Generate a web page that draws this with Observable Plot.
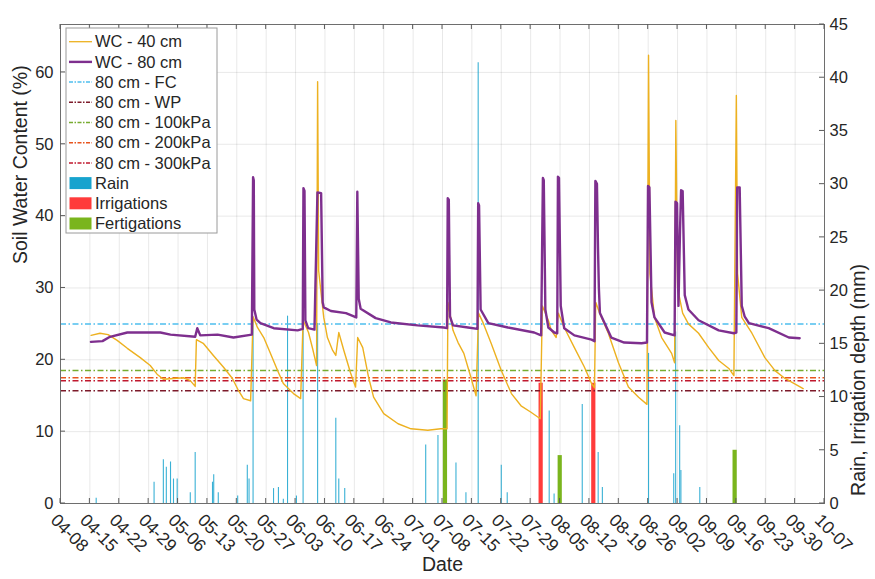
<!DOCTYPE html>
<html>
<head>
<meta charset="utf-8">
<script src="https://cdn.jsdelivr.net/npm/d3@7"></script>
<script src="https://cdn.jsdelivr.net/npm/@observablehq/plot@0.6"></script>
<style>
  body { margin: 0; background: #fff; }
  #chart svg { display: block; }
</style>
</head>
<body>
<div id="chart"></div>
<script>
// ---------------- data ----------------
const YEAR = "2019";
const xTickLabels = ["04-08","04-15","04-22","04-29","05-06","05-13","05-20","05-27","06-03","06-10","06-17","06-24","07-01","07-08","07-15","07-22","07-29","08-05","08-12","08-19","08-26","09-02","09-09","09-16","09-23","09-30","10-07"];
const leftTicks = [0, 10, 20, 30, 40, 50, 60];
const rightTicks = [0, 5, 10, 15, 20, 25, 30, 35, 40, 45];
const LEFT_MAX = 66.67;   // soil water content axis top (%)
const RIGHT_MAX = 45;     // rain / irrigation axis top (mm)

// WC - 40 cm  [date hour, %]
const wc40 = [
["04-15 07",23.4],["04-17 10",23.7],["04-19 08",23.5],["04-21 12",22.7],["04-23 22",21.6],["04-27 00",20.3],["04-29 09",19.2],["05-01 00",18.0],["05-02 12",17.3],["05-04 22",17.4],["05-07 07",17.5],["05-08 22",17.1],["05-10 02",16.3],["05-10 09",22.8],["05-12 00",22.3],["05-14 10",20.6],["05-16 19",19.0],["05-18 23",17.4],["05-20 10",15.7],["05-21 14",14.6],["05-23 07",14.3],["05-23 21",26.0],["05-24 22",24.5],["05-26 10",23.1],["05-28 00",20.9],["05-29 17",18.5],["05-31 02",16.7],["06-02 12",15.3],["06-04 05",14.6],["06-04 19",25.5],["06-06 02",23.8],["06-07 02",21.5],["06-08 00",19.2],["06-08 06",58.7],["06-08 12",32.4],["06-09 17",25.9],["06-10 14",23.1],["06-11 20",21.3],["06-12 14",20.6],["06-13 07",23.8],["06-14 12",21.3],["06-16 02",18.2],["06-17 07",16.2],["06-17 19",23.1],["06-19 00",21.7],["06-20 10",17.5],["06-21 14",14.8],["06-24 00",12.5],["06-27 10",11.1],["06-30 12",10.4],["07-04 12",10.2],["07-07 14",10.4],["07-09 02",10.4],["07-09 07",28.0],["07-10 12",24.1],["07-11 17",22.4],["07-13 02",20.9],["07-14 19",17.5],["07-16 00",15.0],["07-16 14",26.5],["07-17 17",25.1],["07-19 14",22.3],["07-22 00",18.5],["07-24 10",15.3],["07-26 17",13.6],["07-29 02",12.7],["07-31 07",11.8],["07-31 19",27.5],["08-02 05",25.5],["08-02 22",24.1],["08-04 02",23.1],["08-04 14",26.5],["08-06 00",24.5],["08-08 10",21.7],["08-10 19",19.0],["08-12 12",16.7],["08-13 05",16.1],["08-13 12",28.0],["08-14 09",26.6],["08-16 12",23.7],["08-18 22",19.6],["08-21 07",16.2],["08-23 17",14.8],["08-25 17",13.8],["08-26 02",62.4],["08-26 10",32.0],["08-27 12",25.9],["08-29 05",23.1],["08-31 14",20.9],["09-01 07",19.6],["09-01 14",53.3],["09-02 00",30.0],["09-03 05",26.5],["09-04 14",25.0],["09-07 00",23.7],["09-09 10",21.7],["09-11 19",19.9],["09-14 05",18.8],["09-15 10",17.8],["09-16 00",56.8],["09-16 07",32.0],["09-17 07",25.9],["09-19 17",23.7],["09-22 19",20.3],["09-25 05",18.5],["09-27 14",17.4],["10-01 22",16.0]
];

// WC - 80 cm  [date hour, %]
const wc80 = [
["04-15 06",22.5],["04-18 00",22.6],["04-19 19",23.2],["04-23 22",23.8],["05-01 19",23.8],["05-04 05",23.5],["05-10 02",23.2],["05-10 14",24.4],["05-11 07",23.4],["05-15 10",23.5],["05-19 05",23.1],["05-23 14",23.5],["05-23 21",45.4],["05-24 01",45.0],["05-24 04",27.0],["05-24 17",25.6],["05-25 15",25.1],["05-28 19",24.4],["06-03 12",24.1],["06-04 17",24.3],["06-04 21",43.9],["06-05 03",43.5],["06-05 08",25.5],["06-06 00",24.4],["06-07 12",24.2],["06-08 05",43.3],["06-09 02",43.2],["06-09 11",28.0],["06-09 17",27.3],["06-11 10",26.8],["06-15 00",26.5],["06-17 11",25.9],["06-17 17",43.4],["06-18 01",28.5],["06-18 12",27.1],["06-22 02",25.8],["06-25 17",25.2],["07-02 02",24.8],["07-08 08",24.5],["07-09 02",24.4],["07-09 06",42.5],["07-09 12",42.3],["07-09 19",26.0],["07-10 12",24.8],["07-14 02",24.5],["07-16 08",24.3],["07-16 12",41.8],["07-16 17",41.5],["07-17 02",27.0],["07-18 22",25.1],["07-23 14",24.5],["07-29 20",23.8],["07-31 12",23.4],["07-31 22",45.3],["08-01 03",45.0],["08-01 12",27.0],["08-02 05",24.5],["08-03 15",23.8],["08-04 08",23.7],["08-04 12",45.5],["08-04 18",45.3],["08-05 04",27.5],["08-06 00",24.4],["08-08 10",23.4],["08-12 12",22.8],["08-13 05",22.6],["08-13 10",44.9],["08-13 19",44.5],["08-14 01",35.6],["08-14 06",30.0],["08-14 12",26.5],["08-17 05",23.1],["08-20 07",22.4],["08-24 10",22.3],["08-25 17",22.4],["08-25 23",44.2],["08-26 07",44.0],["08-26 19",28.0],["08-27 12",25.9],["08-29 22",23.8],["09-01 07",23.4],["09-01 12",42.0],["09-01 21",41.8],["09-02 05",27.5],["09-02 14",38.0],["09-02 20",43.6],["09-03 05",43.5],["09-03 17",29.0],["09-04 14",27.0],["09-07 00",25.5],["09-11 19",24.1],["09-15 10",23.7],["09-16 00",23.8],["09-16 05",44.0],["09-16 19",44.0],["09-17 07",27.5],["09-18 00",26.0],["09-19 00",25.1],["09-23 17",24.4],["09-28 12",23.1],["10-01 02",23.0]
];

// 80 cm reference levels (%)
const thresholdNames  = ["80 cm - FC", "80 cm - WP", "80 cm - 100kPa", "80 cm - 200kPa", "80 cm - 300kPa"];
const thresholdValues = [25.0, 15.7, 18.5, 17.5, 17.1];

// Rain events [date hour, mm]
const rain = [
["04-16 12",0.5],["04-30 07",2.0],["05-02 12",4.1],["05-03 05",3.4],["05-04 05",3.9],["05-04 22",2.3],["05-05 19",2.3],["05-08 22",1.0],["05-10 02",4.8],["05-14 05",2.0],["05-14 12",2.7],["05-15 14",1.0],["05-20 05",0.7],["05-22 12",3.6],["05-22 22",2.3],["05-23 21",17.5],["05-28 18",1.4],["05-29 22",1.5],["05-31 02",0.4],["06-01 02",17.6],["06-03 05",0.7],["06-04 19",16.9],["06-08 06",16.9],["06-12 14",8.0],["06-13 07",2.3],["06-14 17",1.4],["07-04 00",5.5],["07-06 22",6.4],["07-11 05",3.8],["07-13 14",1.0],["07-16 12",41.4],["07-22 00",3.6],["07-23 10",1.0],["08-02 10",8.7],["08-03 14",0.9],["08-10 07",9.3],["08-14 02",4.8],["08-15 02",1.5],["08-26 02",14.1],["09-01 02",2.8],["09-01 13",16.1],["09-02 12",7.3],["09-02 19",3.1],["09-07 07",1.5]
];
// Irrigations and fertigations [date hour (centre), mm]
const irrigations  = [["07-31 12",11.3],["08-13 01",11.3]];
const fertigations = [["07-08 17",11.6],["08-05 01",4.5],["09-15 17",5.0]];

const seriesNames = ["WC - 40 cm", "WC - 80 cm"];
const barNames = ["Rain", "Irrigations", "Fertigations"];
const axisTitles = {left: "Soil Water Content (%)", right: "Rain, Irrigation depth (mm)", x: "Date"};

// ---------------- styles ----------------
const C = {
  wc40: "#EDB120", wc80: "#7E2F8E",
  thresholds: ["#4DBEEE", "#7D1A2A", "#77AC30", "#E8541E", "#C0182E"],
  rain: "#17A3CE", irrig: "#FF3B3B", fert: "#7AB51D",
  grid: "#000", text: "#262626", axis: "#6e6e6e"
};
const DASH = "6,2.5,1.5,2.5";
const FONT = "'Liberation Sans', Helvetica, Arial, sans-serif";
const TICK_FS = 16.5, XTICK_FS = 17.5, TITLE_FS = 19.5;

// ---------------- helpers ----------------
const parseT = d3.utcParse("%Y-%m-%d %H");
const parseD = d3.utcParse("%Y-%m-%d");
const rows = arr => arr.map(([t, v]) => ({t: parseT(`${YEAR}-${t}`), v}));
const k = LEFT_MAX / RIGHT_MAX;   // mm -> left-axis units
const tickDates = xTickLabels.map(s => parseD(`${YEAR}-${s}`));
const xStart = tickDates[0], xEnd = tickDates[tickDates.length - 1];

const wc40Rows = rows(wc40), wc80Rows = rows(wc80);
const rainRows = rows(rain), irrRows = rows(irrigations), fertRows = rows(fertigations);
const thr = thresholdNames.map((name, i) => ({name, v: thresholdValues[i], color: C.thresholds[i]}));

const W = 875, H = 579, mL = 60, mR = 51, mT = 24, mB = 76;

const chart = Plot.plot({
  width: W, height: H,
  marginLeft: mL, marginRight: mR, marginTop: mT, marginBottom: mB,
  style: {fontFamily: FONT, fontSize: TICK_FS + "px", color: C.text, background: "#fff", overflow: "visible"},
  x: {type: "utc", domain: [xStart, xEnd], axis: null},
  y: {domain: [0, LEFT_MAX]},
  marks: [
    Plot.gridX(tickDates, {stroke: C.grid, strokeOpacity: 0.09}),
    Plot.gridY(leftTicks, {stroke: C.grid, strokeOpacity: 0.09}),
    // rain
    Plot.ruleX(rainRows, {x: "t", y1: 0, y2: d => d.v * k, stroke: C.rain, strokeWidth: 1.1, strokeOpacity: 0.85}),
    // irrigation & fertigation bars (1 day wide)
    Plot.rectY(irrRows, {x1: d => d3.utcHour.offset(d.t, -12), x2: d => d3.utcHour.offset(d.t, 12), y1: 0, y2: d => d.v * k, fill: C.irrig}),
    Plot.rectY(fertRows, {x1: d => d3.utcHour.offset(d.t, -12), x2: d => d3.utcHour.offset(d.t, 12), y1: 0, y2: d => d.v * k, fill: C.fert}),
    // reference levels
    Plot.ruleY(thr, {y: "v", stroke: "color", strokeWidth: 1.5, strokeDasharray: DASH}),
    // water content
    Plot.line(wc40Rows, {x: "t", y: "v", stroke: C.wc40, strokeWidth: 1.4, curve: "linear"}),
    Plot.line(wc80Rows, {x: "t", y: "v", stroke: C.wc80, strokeWidth: 2.4, curve: "linear"}),
    Plot.frame({stroke: C.axis, strokeWidth: 1}),
    // axes
    Plot.axisY(leftTicks, {anchor: "left", tickSize: 0, tickPadding: 7, label: null, fontSize: TICK_FS}),
    Plot.axisY(rightTicks.map(v => v * k), {anchor: "right", tickSize: 0, tickPadding: 5, label: null, fontSize: TICK_FS,
      tickFormat: v => d3.format("d")(Math.round(v / k))}),
    Plot.text(tickDates, {x: d => d, frameAnchor: "bottom", text: (d, i) => xTickLabels[i], rotate: 45,
      textAnchor: "start", lineAnchor: "top", dx: -2, dy: 9, fontSize: XTICK_FS, fill: C.text}),
    // axis titles
    Plot.text([axisTitles.left], {frameAnchor: "left", rotate: -90, dx: -40, fontSize: TITLE_FS, fill: C.text}),
    Plot.text([axisTitles.right], {frameAnchor: "right", rotate: -90, dx: 34, fontSize: TITLE_FS, fill: C.text}),
    Plot.text([axisTitles.x], {frameAnchor: "bottom", dy: 67, fontSize: TITLE_FS, fill: C.text})
  ]
});
document.getElementById("chart").appendChild(chart);

// ---------------- inward tick marks & legend ----------------
const svg = d3.select(chart.tagName.toLowerCase() === "svg" ? chart : chart.querySelector("svg"));
try {
  const sx = chart.scale("x"), sy = chart.scale("y");
  const g = svg.append("g").attr("stroke", "#5a5a5a").attr("stroke-width", 1);
  tickDates.forEach(d => {
    const x = sx.apply(d);
    g.append("line").attr("x1", x).attr("x2", x).attr("y1", H - mB).attr("y2", H - mB - 5);
    g.append("line").attr("x1", x).attr("x2", x).attr("y1", mT).attr("y2", mT + 5);
  });
  leftTicks.forEach(v => {
    const y = sy.apply(v);
    g.append("line").attr("x1", mL).attr("x2", mL + 5).attr("y1", y).attr("y2", y);
  });
  rightTicks.forEach(v => {
    const y = sy.apply(v * k);
    g.append("line").attr("x1", W - mR).attr("x2", W - mR - 5).attr("y1", y).attr("y2", y);
  });
} catch (e) {}

const lg = svg.append("g").attr("font-family", FONT).attr("font-size", TICK_FS)
  .attr("fill", C.text).attr("text-anchor", "start");
const lx = 66, ly = 28, lw = 151, lh = 205, row0 = 41.7, step = 20.2;
lg.append("rect").attr("x", lx).attr("y", ly).attr("width", lw).attr("height", lh)
  .attr("fill", "#fff").attr("stroke", "#9a9a9a").attr("stroke-width", 1);
const items = [
  {name: seriesNames[0], type: "line", color: C.wc40, w: 1.3},
  {name: seriesNames[1], type: "line", color: C.wc80, w: 2.4},
  ...thr.map(t => ({name: t.name, type: "dash", color: t.color, w: 1.5})),
  {name: barNames[0], type: "box", color: C.rain},
  {name: barNames[1], type: "box", color: C.irrig},
  {name: barNames[2], type: "box", color: C.fert}
];
items.forEach((it, i) => {
  const y = row0 + i * step;
  if (it.type === "box") {
    lg.append("rect").attr("x", 69.5).attr("y", y - 6).attr("width", 22).attr("height", 12).attr("fill", it.color);
  } else {
    const l = lg.append("line").attr("x1", 69).attr("x2", 92).attr("y1", y).attr("y2", y)
      .attr("stroke", it.color).attr("stroke-width", it.w);
    if (it.type === "dash") l.attr("stroke-dasharray", "4,1.5,1.5,1.5");
  }
  lg.append("text").attr("x", 95).attr("y", y).attr("dy", "0.35em").attr("text-anchor", "start").text(it.name);
});
</script>
</body>
</html>
